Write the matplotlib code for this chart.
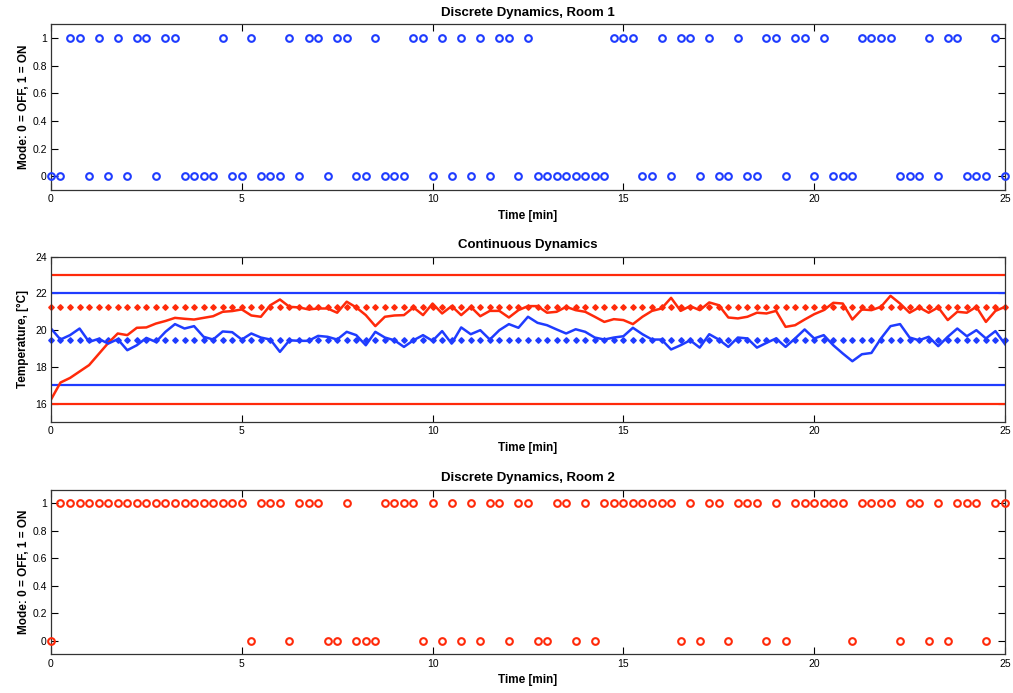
import numpy as np
import matplotlib
matplotlib.use("Agg")
import matplotlib.pyplot as plt

# sample times, 0.25 min step
t = np.arange(101) * 0.25

# heater modes (0 = OFF, 1 = ON)
mode_room1 = [0, 0, 1, 1, 0, 1, 0, 1, 0, 1, 1, 0, 1, 1, 0, 0, 0, 0, 1, 0,
              0, 1, 0, 0, 0, 1, 0, 1, 1, 0, 1, 1, 0, 0, 1, 0, 0, 0, 1, 1,
              0, 1, 0, 1, 0, 1, 0, 1, 1, 0, 1, 0, 0, 0, 0, 0, 0, 0, 0, 1,
              1, 1, 0, 0, 1, 0, 1, 1, 0, 1, 0, 0, 1, 0, 0, 1, 1, 0, 1, 1,
              0, 1, 0, 0, 0, 1, 1, 1, 1, 0, 0, 0, 1, 0, 1, 1, 0, 0, 0, 1,
              0]
mode_room2 = [0, 1, 1, 1, 1, 1, 1, 1, 1, 1, 1, 1, 1, 1, 1, 1, 1, 1, 1, 1,
              1, 0, 1, 1, 1, 0, 1, 1, 1, 0, 0, 1, 0, 0, 0, 1, 1, 1, 1, 0,
              1, 0, 1, 0, 1, 0, 1, 1, 0, 1, 1, 0, 0, 1, 1, 0, 1, 0, 1, 1,
              1, 1, 1, 1, 1, 1, 0, 1, 0, 1, 1, 0, 1, 1, 1, 0, 1, 0, 1, 1,
              1, 1, 1, 1, 0, 1, 1, 1, 1, 0, 1, 1, 0, 1, 0, 1, 1, 1, 0, 1,
              1]

# room temperatures [deg C]
temp_room1 = [20.09, 19.49, 19.73, 20.09, 19.36, 19.53, 19.27, 19.51, 18.91, 19.18,
              19.58, 19.36, 19.91, 20.33, 20.09, 20.22, 19.64, 19.49, 19.93, 19.89,
              19.49, 19.82, 19.60, 19.49, 18.82, 19.45, 19.42, 19.42, 19.69, 19.64,
              19.49, 19.91, 19.73, 19.18, 19.91, 19.60, 19.45, 19.09, 19.45, 19.73,
              19.42, 19.95, 19.27, 20.15, 19.78, 20.00, 19.49, 20.00, 20.33, 20.13,
              20.73, 20.40, 20.27, 20.04, 19.82, 20.05, 19.91, 19.60, 19.49, 19.60,
              19.67, 20.13, 19.78, 19.49, 19.49, 18.95, 19.18, 19.45, 19.05, 19.78,
              19.49, 19.09, 19.60, 19.55, 19.05, 19.31, 19.55, 19.09, 19.55, 20.04,
              19.55, 19.73, 19.18, 18.73, 18.31, 18.69, 18.76, 19.55, 20.22, 20.33,
              19.60, 19.45, 19.64, 19.13, 19.64, 20.09, 19.67, 20.00, 19.55, 19.95,
              19.24]
temp_room2 = [16.22, 17.15, 17.40, 17.75, 18.10, 18.70, 19.30, 19.82, 19.73, 20.13,
              20.15, 20.36, 20.50, 20.67, 20.62, 20.58, 20.67, 20.76, 21.00, 21.04,
              21.13, 20.80, 20.73, 21.36, 21.67, 21.27, 21.24, 21.13, 21.18, 21.18,
              20.95, 21.55, 21.24, 20.82, 20.22, 20.73, 20.80, 20.82, 21.24, 20.82,
              21.45, 20.91, 21.31, 20.82, 21.27, 20.76, 21.05, 21.05, 20.69, 21.09,
              21.31, 21.31, 20.95, 21.00, 21.27, 21.09, 21.00, 20.73, 20.45, 20.60,
              20.55, 20.33, 20.73, 21.05, 21.18, 21.76, 21.05, 21.31, 21.09, 21.51,
              21.36, 20.69, 20.64, 20.73, 20.95, 20.91, 21.05, 20.18, 20.27, 20.58,
              20.87, 21.09, 21.49, 21.45, 20.58, 21.13, 21.09, 21.27, 21.87, 21.45,
              20.95, 21.24, 20.95, 21.24, 20.55, 21.00, 20.95, 21.27, 20.45, 21.05,
              21.27]

# limits and set points
room1_lims = [17, 22]
room2_lims = [16, 23]
room1_set = 19.47
room2_set = 21.24

blue = '#1f3cff'
red = '#ff2a0a'

plt.rcParams['font.family'] = ['Liberation Sans', 'DejaVu Sans']
plt.rcParams['font.size'] = 8

fig = plt.figure(figsize=(10.13, 6.93), dpi=100)
ax1 = fig.add_axes([0.0503, 0.7258, 0.9418, 0.2395])
ax2 = fig.add_axes([0.0503, 0.3910, 0.9418, 0.2386])
ax3 = fig.add_axes([0.0503, 0.0557, 0.9418, 0.2378])


def style(ax):
    ax.set_xlim(0, 25)
    ax.set_xticks([0, 5, 10, 15, 20, 25])
    ax.tick_params(direction='in', top=True, right=True, length=5, width=0.8,
                   labelsize=7.5, pad=3, colors='black')
    for s in ax.spines.values():
        s.set_linewidth(0.9)
        s.set_color('#333333')
    ax.set_xlabel('Time [min]', fontweight='bold', fontsize=8.5, labelpad=4)


for ax, m, c, ttl in [(ax1, mode_room1, blue, 'Discrete Dynamics, Room 1'),
                      (ax3, mode_room2, red, 'Discrete Dynamics, Room 2')]:
    ax.plot(t, m, 'o', mfc='none', mec=c, mew=1.5, ms=4.8, clip_on=False, zorder=3)
    ax.set_ylim(-0.1, 1.1)
    ax.set_yticks([0, 0.2, 0.4, 0.6, 0.8, 1])
    ax.set_yticklabels(['0', '0.2', '0.4', '0.6', '0.8', '1'])
    ax.set_ylabel('Mode: 0 = OFF, 1 = ON', fontweight='bold', fontsize=8.5, labelpad=2)
    ax.set_title(ttl, fontweight='bold', fontsize=9.5, pad=6)
    style(ax)

# continuous dynamics
for v in room2_lims:
    ax2.axhline(v, color=red, lw=1.6)
for v in room1_lims:
    ax2.axhline(v, color=blue, lw=1.6)
ax2.plot(t, np.full(len(t), room2_set), 'D', color=red, ms=2.8, clip_on=False)
ax2.plot(t, np.full(len(t), room1_set), 'D', color=blue, ms=2.8, clip_on=False)
ax2.plot(t, temp_room2, color=red, lw=1.8)
ax2.plot(t, temp_room1, color=blue, lw=1.8)
ax2.set_ylim(15, 24)
ax2.set_yticks([16, 18, 20, 22, 24])
ax2.set_ylabel('Temperature, [°C]', fontweight='bold', fontsize=8.5, labelpad=4)
ax2.set_title('Continuous Dynamics', fontweight='bold', fontsize=9.5, pad=6)
style(ax2)

fig.savefig('out.png', dpi=100)
